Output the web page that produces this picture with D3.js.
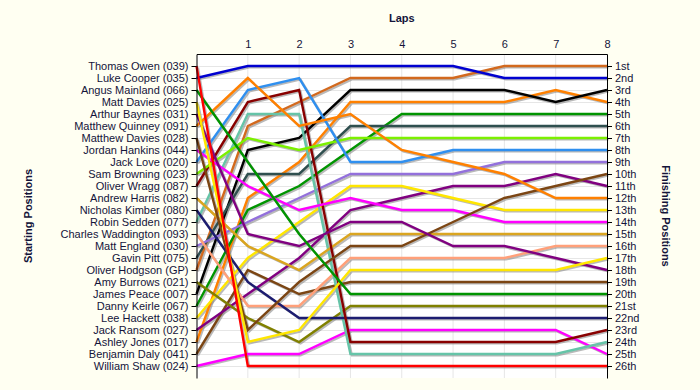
<!DOCTYPE html>
<html>
<head>
<meta charset="utf-8">
<script src="https://cdn.jsdelivr.net/npm/d3@7"></script>
<style>
  body { margin: 0; background: #fffff2; }
  text { font-family: 'Liberation Sans', Arial, sans-serif; }
</style>
</head>
<body>
<div id="vis"></div>
<script>
// starting grid, top to bottom
const drivers = [
  'Thomas Owen (039)', 'Luke Cooper (035)', 'Angus Mainland (066)', 'Matt Davies (025)',
  'Arthur Baynes (031)', 'Matthew Quinney (091)', 'Matthew Davies (028)', 'Jordan Hankins (044)',
  'Jack Love (020)', 'Sam Browning (023)', 'Oliver Wragg (087)', 'Andrew Harris (082)',
  'Nicholas Kimber (080)', 'Robin Sedden (077)', 'Charles Waddington (093)', 'Matt England (030)',
  'Gavin Pitt (075)', 'Oliver Hodgson (GP)', 'Amy Burrows (021)', 'James Peace (007)',
  'Danny Keirle (067)', 'Lee Hackett (038)', 'Jack Ransom (027)', 'Ashley Jones (017)',
  'Benjamin Daly (041)', 'William Shaw (024)'
]

// position of each driver after lap 0..8
const lapPositions = [
  [1, 26, 26, 26, 26, 26, 26, 26, 26],
  [2, 1, 1, 1, 1, 1, 2, 2, 2],
  [3, 9, 15, 20, 20, 20, 20, 20, 20],
  [4, 24, 23, 18, 18, 18, 18, 18, 17],
  [5, 15, 16, 14, 14, 16, 16, 17, 18],
  [6, 2, 6, 5, 8, 9, 10, 12, 12],
  [7, 23, 19, 16, 16, 14, 12, 11, 10],
  [8, 11, 13, 12, 13, 13, 14, 14, 14],
  [9, 3, 2, 9, 9, 8, 8, 8, 8],
  [10, 7, 8, 7, 7, 7, 7, 7, 7],
  [11, 4, 3, 24, 24, 24, 24, 24, 23],
  [12, 16, 18, 15, 15, 15, 15, 15, 15],
  [13, 19, 22, 22, 22, 22, 22, 22, 22],
  [14, 5, 5, 25, 25, 25, 25, 25, 24],
  [15, 21, 21, 17, 17, 17, 17, 16, 16],
  [16, 14, 12, 10, 10, 10, 9, 9, 9],
  [17, 10, 10, 6, 6, 6, 6, 6, 6],
  [18, 6, 4, 2, 2, 2, 1, 1, 1],
  [19, 22, 24, 21, 21, 21, 21, 21, 21],
  [20, 8, 7, 3, 3, 3, 3, 4, 3],
  [21, 13, 11, 8, 5, 5, 5, 5, 5],
  [22, 17, 14, 11, 11, 12, 13, 13, 13],
  [23, 20, 17, 13, 12, 11, 11, 10, 11],
  [24, 12, 9, 4, 4, 4, 4, 3, 4],
  [25, 18, 20, 19, 19, 19, 19, 19, 19],
  [26, 25, 25, 23, 23, 23, 23, 23, 25]
]

const lapLabels = ['1', '2', '3', '4', '5', '6', '7', '8']
const finishLabels = [
  '1st', '2nd', '3rd', '4th', '5th', '6th', '7th', '8th', '9th', '10th', '11th', '12th', '13th',
  '14th', '15th', '16th', '17th', '18th', '19th', '20th', '21st', '22nd', '23rd', '24th', '25th', '26th'
]

const lineColors = [
  '#ff0000', '#0000d0', '#009400', '#ffe600', '#800080', '#ff8000', '#7b4513', '#ff00ff',
  '#2f8fef', '#7cf000', '#880000', '#daa520', '#1c1c70', '#66c4a8', '#ffa07a', '#9370db',
  '#2f4f4f', '#d2691e', '#808000', '#000000', '#009400', '#ffe600', '#800080', '#ff8000',
  '#7b4513', '#ff00ff'
]

const width = 700, height = 390
const nPos = drivers.length

const x = d3.scaleLinear().domain([0, lapLabels.length]).range([196.5, 607])
const y = d3.scaleLinear().domain([0, nPos + 1]).range([54, 378])

const svg = d3.select('#vis')
  .append('svg')
  .attr('width', width)
  .attr('height', height)

svg.append('rect')
  .attr('width', width).attr('height', height)
  .attr('fill', '#fffff2')

// plot background
svg.append('rect')
  .attr('x', x(0)).attr('y', y(0))
  .attr('width', x(lapLabels.length) - x(0))
  .attr('height', y(nPos + 1) - y(0))
  .attr('fill', '#ffffff')

const rows = d3.range(1, nPos + 1)

// grid
svg.append('g')
  .selectAll('line')
  .data(rows)
  .enter()
  .append('line')
  .attr('x1', x(0)).attr('x2', x(lapLabels.length))
  .attr('y1', (d) => y(d) + 0.5).attr('y2', (d) => y(d) + 0.5)
  .attr('stroke', '#e6e6e6')

svg.append('g')
  .selectAll('line')
  .data(d3.range(1, lapLabels.length))
  .enter()
  .append('line')
  .attr('x1', (d) => x(d)).attr('x2', (d) => x(d))
  .attr('y1', y(0)).attr('y2', y(nPos + 1))
  .attr('stroke', '#e6e6e6')

// series lines, shadow first
const line = d3.line()
  .x((d, i) => x(i))
  .y((d) => y(d))

const order = d3.range(nPos).reverse()

svg.append('g')
  .attr('transform', 'translate(1.5,1.5)')
  .selectAll('path')
  .data(order)
  .enter()
  .append('path')
  .attr('d', (i) => line(lapPositions[i]))
  .attr('fill', 'none')
  .attr('stroke', '#8a8a8a')
  .attr('stroke-opacity', 0.6)
  .attr('stroke-width', 2.2)

order.forEach((i) => {
  svg.append('path')
    .attr('d', line(lapPositions[i]))
    .attr('fill', 'none')
    .attr('stroke', lineColors[i])
    .attr('stroke-width', 2.4)
    .attr('stroke-linejoin', 'miter')
})

// axes
const textColor = '#14143a'

const topAxis = svg.append('g')
  .attr('transform', 'translate(0,' + y(0) + ')')
  .call(d3.axisTop(x)
    .tickValues(d3.range(1, lapLabels.length + 1))
    .tickFormat((d) => lapLabels[d - 1])
    .tickSize(0)
    .tickPadding(6))
topAxis.select('.domain').attr('stroke', '#000')

const leftAxis = svg.append('g')
  .attr('transform', 'translate(' + x(0) + ',0)')
  .call(d3.axisLeft(y)
    .tickValues(rows)
    .tickFormat((d) => drivers[d - 1])
    .tickSize(5)
    .tickSizeOuter(0)
    .tickPadding(3))
leftAxis.select('.domain').attr('stroke', '#000')

const rightAxis = svg.append('g')
  .attr('transform', 'translate(' + x(lapLabels.length) + ',0)')
  .call(d3.axisRight(y)
    .tickValues(rows)
    .tickFormat((d) => finishLabels[d - 1])
    .tickSize(5)
    .tickSizeOuter(0)
    .tickPadding(3))
rightAxis.select('.domain').attr('stroke', '#000')

svg.selectAll('.tick text')
  .style('font-size', '11px')
  .style('font-family', "'Liberation Sans', Arial, sans-serif")
  .attr('fill', textColor)
svg.selectAll('.tick line').attr('stroke', '#000')

// titles
svg.append('text')
  .attr('x', (x(0) + x(lapLabels.length)) / 2)
  .attr('y', 22)
  .attr('text-anchor', 'middle')
  .style('font-size', '11px')
  .style('font-weight', 'bold')
  .attr('fill', textColor)
  .text('Laps')

svg.append('text')
  .attr('transform', 'translate(32,' + (y(0) + y(nPos + 1)) / 2 + ')rotate(-90)')
  .attr('text-anchor', 'middle')
  .style('font-size', '11px')
  .style('font-weight', 'bold')
  .attr('fill', textColor)
  .text('Starting Positions')

svg.append('text')
  .attr('transform', 'translate(662,' + (y(0) + y(nPos + 1)) / 2 + ')rotate(90)')
  .attr('text-anchor', 'middle')
  .style('font-size', '11px')
  .style('font-weight', 'bold')
  .attr('fill', textColor)
  .text('Finishing Positions')
</script>
</body>
</html>
